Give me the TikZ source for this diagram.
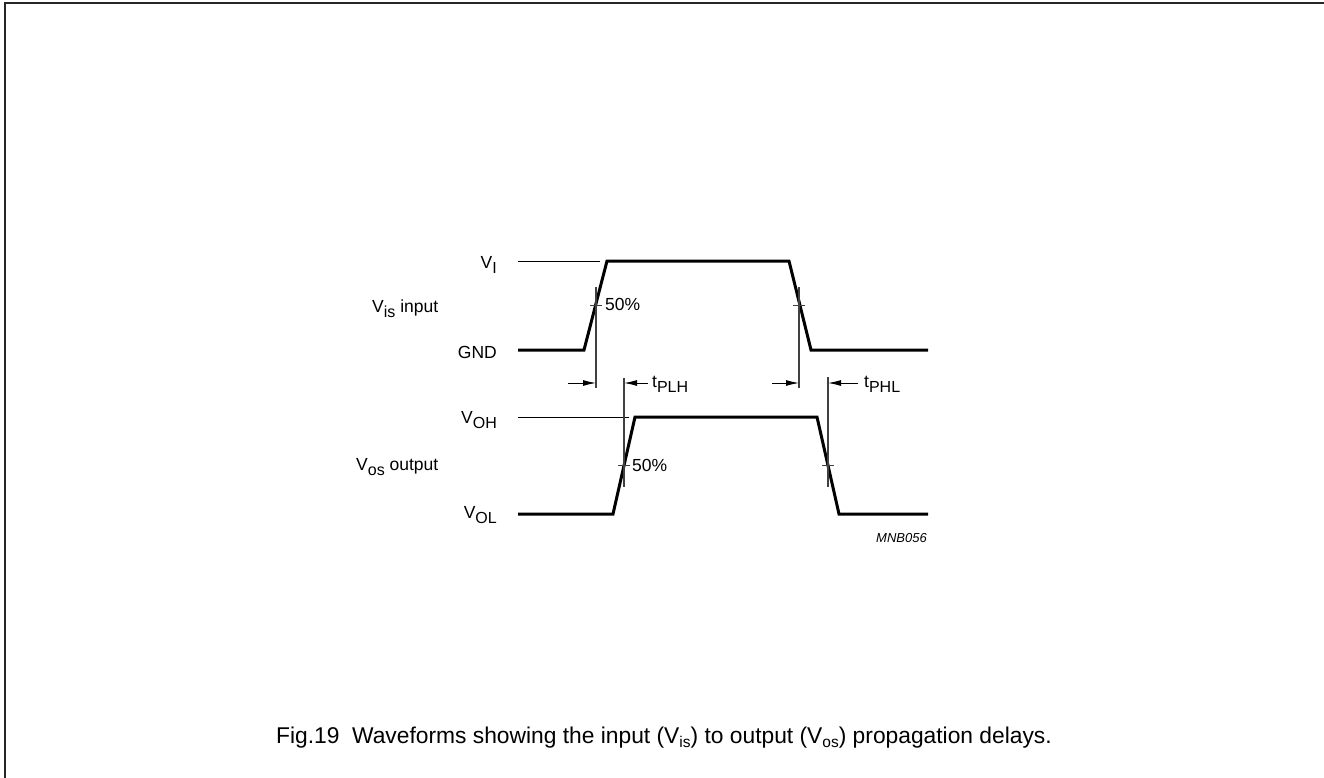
\documentclass[tikz,border=0pt]{standalone}
\usepackage{fontspec}
\setmainfont{Liberation Sans}
\usetikzlibrary{arrows.meta}
\newcommand{\lbl}{\fontsize{17.5}{17.5}\selectfont}
\newcommand{\lo}[1]{\raisebox{-5.5pt}{\fontsize{16}{16}\selectfont #1}}
\newcommand{\clo}[1]{\raisebox{-4pt}{\fontsize{15.5}{15.5}\selectfont #1}}
\begin{document}
\begin{tikzpicture}[x=1pt, y=-1pt, every node/.style={font=\lbl, inner sep=0pt},
        wave/.style={line width=3pt, line join=miter}, level/.style={line width=1pt},
        marker/.style={line width=1.2pt, draw=black!75}, delay/.style={line width=1pt, -{Latex[length=13pt,width=6pt]}}]
    \useasboundingbox (0,0) rectangle (1324,778);
    % frame
    \draw[line width=2pt, black!85] (4.5,778) -- (4.5,3) -- (1324,3);
    % input waveform
    \coordinate (ia) at (518,350); \coordinate (ib) at (584,350); \coordinate (ic) at (607,261);
    \coordinate (id) at (789,261); \coordinate (ie) at (811,350); \coordinate (if) at (928,350);
    \draw[wave] (ia) -- (ib) -- (ic) -- (id) -- (ie) -- (if);
    % output waveform
    \coordinate (oa) at (518,514); \coordinate (ob) at (613,514); \coordinate (oc) at (635,417);
    \coordinate (od) at (817,417); \coordinate (oe) at (839,514); \coordinate (of) at (928,514);
    \draw[wave] (oa) -- (ob) -- (oc) -- (od) -- (oe) -- (of);
    % levels
    \coordinate (vil) at (518,261); \coordinate (vir) at (600,261);
    \coordinate (vohl) at (518,417); \coordinate (vohr) at (629,417);
    \draw[level] (vil) -- (vir);
    \draw[level] (vohl) -- (vohr);
    % 50% markers
    \foreach \x/\top/\bot/\y in {596/287/388/305.5, 799/287/388/305.5, 624/378/487/465.5, 828/377/487/465.5}{
        \draw[marker] (\x,\top) -- (\x,\bot);
        \draw[marker] (\x-6,\y) -- (\x+6,\y);
    }
    % delay arrows
    \coordinate (a1) at (568,383); \coordinate (m1) at (596,383);
    \coordinate (a2) at (648,383); \coordinate (m2) at (624,383);
    \coordinate (a3) at (772,383); \coordinate (m3) at (799,383);
    \coordinate (a4) at (858,383); \coordinate (m4) at (828,383);
    \draw[delay] (a1) -- (m1);
    \draw[delay] (a2) -- (m2);
    \draw[delay] (a3) -- (m3);
    \draw[delay] (a4) -- (m4);
    % labels
    \node[anchor=base east] (vi) at (497,268) {V\lo{I}};
    \node[anchor=base west] (vis) at (372,312) {V\lo{is} input};
    \node[anchor=base east] (gnd) at (497,358) {GND};
    \node[anchor=base west] (pin) at (605,310) {50\%};
    \node[anchor=base west] (tplh) at (652,387) {t\lo{PLH}};
    \node[anchor=base west] (tphl) at (864,387) {t\lo{PHL}};
    \node[anchor=base east] (voh) at (497,423) {V\lo{OH}};
    \node[anchor=base west] (vos) at (356,470) {V\lo{os} output};
    \node[anchor=base west] (pout) at (632,471) {50\%};
    \node[anchor=base east] (vol) at (497,518) {V\lo{OL}};
    \node[anchor=base east, font=\fontsize{13}{13}\selectfont\itshape] (mnb) at (927,542) {MNB056};
    \node[anchor=base west, font=\fontsize{22.8}{22.8}\selectfont] (cap) at (276,743)
        {Fig.19\hspace{0.55em}Waveforms showing the input (V\clo{is}) to output (V\clo{os}) propagation delays.};
\end{tikzpicture}
\end{document}
